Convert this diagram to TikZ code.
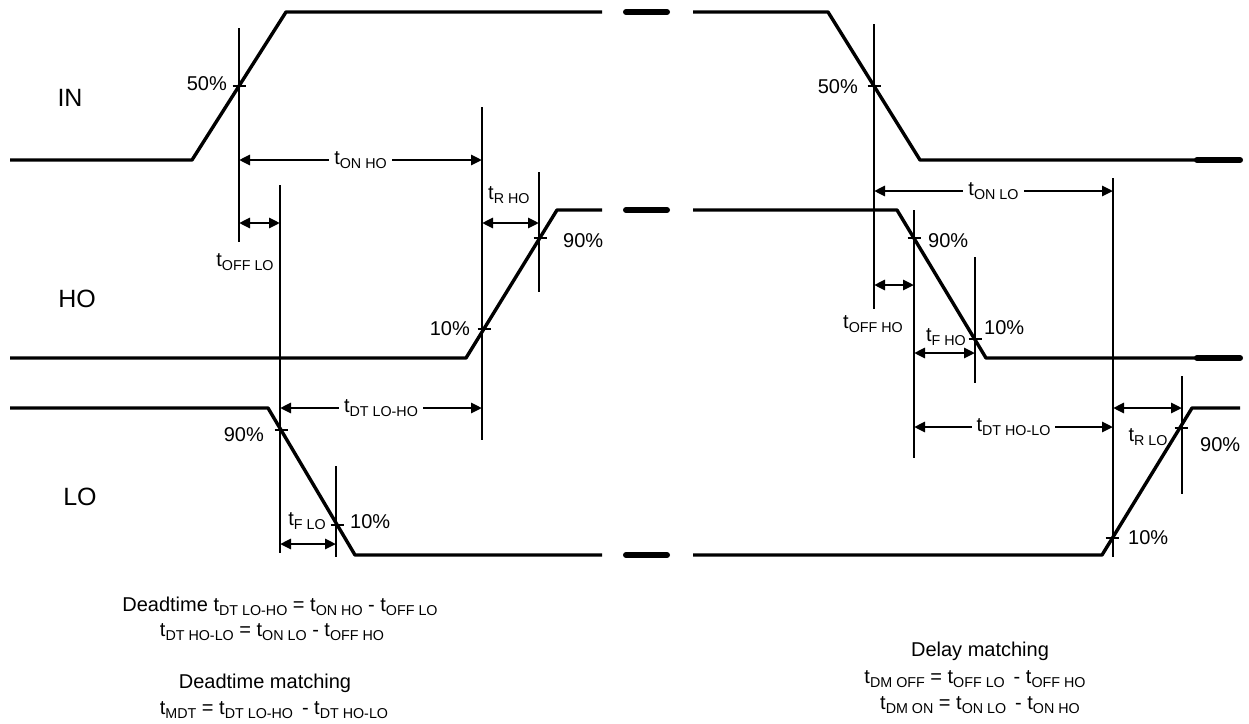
\documentclass[tikz,border=0pt]{standalone}
\usepackage{fontspec}
\setmainfont{Liberation Sans}
\usetikzlibrary{arrows.meta}
\newcommand\lsub[1]{\raisebox{-3.8pt}{\fontsize{14.3}{15}\selectfont #1}}
\newcommand\tsub[1]{t\lsub{#1}}
\begin{document}
\begin{tikzpicture}[x=1pt,y=-1pt,
  font=\fontsize{20}{23}\selectfont,
  wave/.style={line width=3.4pt,line join=round},
  brk/.style={line width=6pt,line cap=round},
  guide/.style={line width=2.9pt},
  tick/.style={line width=2.9pt},
  dim/.style={line width=2.9pt,{Triangle[length=11pt,width=10pt]}-{Triangle[length=11pt,width=10pt]}},
  dl/.style={fill=white,inner sep=5pt},
  lbl/.style={inner sep=0pt},
  sig/.style={inner sep=0pt,font=\fontsize{25}{28}\selectfont}]
\useasboundingbox (0,0) rectangle (1249,723);

% ---------- waveforms ----------
% IN
\draw[wave] (10,160) -- (192,160) -- (286,12) -- (602,12);
\draw[brk] (626,12) -- (667,12);
\draw[wave] (693,12) -- (828,12) -- (920,160) -- (1197,160);
\draw[brk] (1197,160) -- (1240,160);
% HO
\draw[wave] (10,358) -- (466,358) -- (557,210) -- (602,210);
\draw[brk] (626,210) -- (667,210);
\draw[wave] (693,210) -- (897,210) -- (986,358) -- (1197,358);
\draw[brk] (1197,358) -- (1240,358);
% LO
\draw[wave] (10,408) -- (268,408) -- (355,555) -- (602,555);
\draw[brk] (626,555) -- (667,555);
\draw[wave] (693,555) -- (1102,555) -- (1192,408) -- (1240,408);

% ---------- signal names ----------
\node[sig] (nIN) at (70,98) {IN};
\node[sig] (nHO) at (77,299) {HO};
\node[sig] (nLO) at (80,497) {LO};

% ---------- guide lines ----------
\coordinate (g1t) at (239,28);   \coordinate (g1b) at (239,242);
\coordinate (g2t) at (280,185);  \coordinate (g2b) at (280,553);
\coordinate (g3t) at (482,107);  \coordinate (g3b) at (482,440);
\coordinate (g4t) at (539,172);  \coordinate (g4b) at (539,292);
\coordinate (g5t) at (336,466);  \coordinate (g5b) at (336,557);
\coordinate (g6t) at (874,24);   \coordinate (g6b) at (874,309);
\coordinate (g7t) at (914,210);  \coordinate (g7b) at (914,458);
\coordinate (g8t) at (975,257);  \coordinate (g8b) at (975,383);
\coordinate (g9t) at (1113,178); \coordinate (g9b) at (1113,557);
\coordinate (g10t) at (1182,376);\coordinate (g10b) at (1182,494);
\foreach \g in {1,...,10}{\draw[guide] (g\g t) -- (g\g b);}

% ---------- ticks ----------
\coordinate (p1) at (239,86);
\coordinate (p2) at (484,329);
\coordinate (p3) at (540,238);
\coordinate (p4) at (281,430);
\coordinate (p5) at (337,525);
\coordinate (p6) at (874,86);
\coordinate (p7) at (914,238);
\coordinate (p8) at (975,339);
\coordinate (p9) at (1112,538);
\coordinate (p10) at (1181,428);
\foreach \p in {1,...,10}{\draw[tick] (p\p) ++(-6.5,0) -- ++(13,0);}

% ---------- percent labels ----------
\node[lbl,anchor=east] (l1) at (227,84) {50\%};
\node[lbl,anchor=east] (l2) at (470,329) {10\%};
\node[lbl,anchor=west] (l3) at (563,241) {90\%};
\node[lbl,anchor=east] (l4) at (264,435) {90\%};
\node[lbl,anchor=west] (l5) at (350,522) {10\%};
\node[lbl,anchor=east] (l6) at (858,87) {50\%};
\node[lbl,anchor=west] (l7) at (928,241) {90\%};
\node[lbl,anchor=west] (l8) at (984,328) {10\%};
\node[lbl,anchor=west] (l9) at (1128,538) {10\%};
\node[lbl,anchor=west] (l10) at (1200,445) {90\%};

% ---------- dimension arrows ----------
\coordinate (a1) at (239,160); \coordinate (b1) at (482,160);
\draw[dim] (a1) -- node[dl] (tonho) {\tsub{ON HO}} (b1);
\coordinate (a2) at (239,223); \coordinate (b2) at (280,223);
\draw[dim] (a2) -- (b2);
\node[lbl] (toffLO) at (245,262) {\tsub{OFF LO}};
\coordinate (a3) at (482,223); \coordinate (b3) at (539,223);
\draw[dim] (a3) -- (b3);
\node[lbl,anchor=west] (trho) at (488,195) {\tsub{R HO}};
\coordinate (a4) at (280,408); \coordinate (b4) at (482,408);
\draw[dim] (a4) -- node[dl] (tdtlh) {\tsub{DT LO-HO}} (b4);
\coordinate (a5) at (280,544); \coordinate (b5) at (336,544);
\draw[dim] (a5) -- (b5);
\node[lbl] (tflo) at (307,521) {\tsub{F LO}};

\coordinate (a6) at (874,191); \coordinate (b6) at (1113,191);
\draw[dim] (a6) -- node[dl] (tonlo) {\tsub{ON LO}} (b6);
\coordinate (a7) at (874,285); \coordinate (b7) at (914,285);
\draw[dim] (a7) -- (b7);
\node[lbl] (toffho) at (873,324) {\tsub{OFF HO}};
\coordinate (a8) at (914,353); \coordinate (b8) at (975,353);
\draw[dim] (a8) -- (b8);
\node[lbl] (tfho) at (946,337) {\tsub{F HO}};
\coordinate (a9) at (914,427); \coordinate (b9) at (1113,427);
\draw[dim] (a9) -- node[dl] (tdthl) {\tsub{DT HO-LO}} (b9);
\coordinate (a10) at (1113,408); \coordinate (b10) at (1182,408);
\draw[dim] (a10) -- (b10);
\node[lbl] (trlo) at (1148,437) {\tsub{R LO}};

% ---------- formulas ----------
\node[lbl] (f1) at (280,606) {Deadtime \tsub{DT LO-HO} = \tsub{ON HO} - \tsub{OFF LO}};
\node[lbl] (f2) at (272,632) {\tsub{DT HO-LO} = \tsub{ON LO} - \tsub{OFF HO}};
\node[lbl] (f3) at (265,683) {Deadtime matching};
\node[lbl] (f4) at (274,710) {\tsub{MDT} = \tsub{DT LO-HO}\, - \tsub{DT HO-LO}};
\node[lbl] (f5) at (980,651) {Delay matching};
\node[lbl] (f6) at (975,679) {\tsub{DM OFF} = \tsub{OFF LO}\, - \tsub{OFF HO}};
\node[lbl] (f7) at (980,705) {\tsub{DM ON} = \tsub{ON LO}\, - \tsub{ON HO}};
\end{tikzpicture}
\end{document}
